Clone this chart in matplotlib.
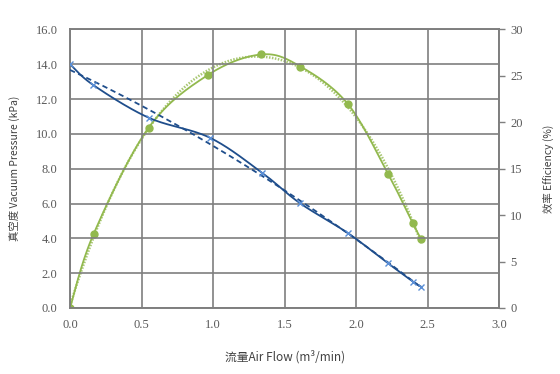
import numpy as np
import matplotlib
matplotlib.use("Agg")
import matplotlib.pyplot as plt

plt.rcParams['font.family'] = ['Noto Sans CJK SC', 'DejaVu Sans']

# Data
flow_p = [0.0, 0.163, 0.549, 0.977, 1.34, 1.605, 1.942, 2.22, 2.396, 2.452]
pressure = [14.0, 12.8, 10.93, 9.78, 7.78, 6.03, 4.30, 2.58, 1.52, 1.23]
flow_e = [0.0, 0.165, 0.549, 0.965, 1.338, 1.61, 1.942, 2.224, 2.396, 2.454]
efficiency = [0.0, 7.97, 19.4, 25.1, 27.3, 26.0, 21.96, 14.4, 9.1, 7.4]

x_ticks = [0.0, 0.5, 1.0, 1.5, 2.0, 2.5, 3.0]
y_ticks = [0, 2, 4, 6, 8, 10, 12, 14, 16]
y2_ticks = [0, 5, 10, 15, 20, 25, 30]

xlabel = '流量Air Flow (m³/min)'
ylabel = '真空度 Vacuum Pressure (kPa)'
y2label = '效率 Efficiency (%)'

DARK_BLUE = '#1f4e8c'
LIGHT_BLUE = '#5b8fd6'
GREEN = '#92b94e'
GRID = '#7f7f7f'
TICK = '#595959'


def smooth(x, y, n=30):
    """Catmull-Rom style smoothing (like spreadsheet 'smoothed line')."""
    x = np.asarray(x, float)
    y = np.asarray(y, float)
    P = np.column_stack([x, y])
    out = []
    for i in range(len(P) - 1):
        p0 = P[i - 1] if i > 0 else P[i]
        p1 = P[i]
        p2 = P[i + 1]
        p3 = P[i + 2] if i + 2 < len(P) else P[i + 1]
        c1 = p1 + (p2 - p0) / 6.0
        c2 = p2 - (p3 - p1) / 6.0
        t = np.linspace(0, 1, n)[:, None]
        seg = ((1 - t) ** 3) * p1 + 3 * ((1 - t) ** 2) * t * c1 + 3 * (1 - t) * t ** 2 * c2 + t ** 3 * p2
        out.append(seg if i == 0 else seg[1:])
    s = np.vstack(out)
    return s[:, 0], s[:, 1]


fig = plt.figure(figsize=(5.6, 3.74), dpi=100)
ax = fig.add_axes([0.125, 0.1765, 0.7666, 0.745])
ax2 = ax.twinx()

# Efficiency (right axis)
ex, ey = smooth(flow_e, efficiency)
ax2.plot(ex, ey, color=GREEN, lw=1.3, zorder=3)
ce = np.polyfit(flow_e, efficiency, 4)
tx = np.linspace(min(flow_e), max(flow_e), 200)
ax2.plot(tx, np.polyval(ce, tx), color=GREEN, lw=1.8, ls=(0, (0.6, 0.6)), alpha=0.8, zorder=3)
ax2.plot(flow_e, efficiency, 'o', color=GREEN, ms=5, zorder=4)

# Pressure (left axis)
px, py = smooth(flow_p, pressure)
cp = np.polyfit(flow_p, pressure, 2)
tp = np.linspace(min(flow_p), max(flow_p), 200)

ax2.set_ylim(0, 30)
ax2.set_yticks(y2_ticks)
ax2.set_yticklabels([str(v) for v in y2_ticks])

ax.set_zorder(ax2.get_zorder() + 1)
ax.patch.set_visible(False)
ax.plot(px, py, color=DARK_BLUE, lw=1.3, zorder=3)
ax.plot(tp, np.polyval(cp, tp), color=DARK_BLUE, lw=1.3, ls=(0, (3, 2)), zorder=3)
ax.plot(flow_p, pressure, 'x', color=LIGHT_BLUE, ms=5, mew=1.0, zorder=4)

ax.set_xlim(0, 3)
ax.set_ylim(0, 16)
ax.set_xticks(x_ticks)
ax.set_xticklabels([f'{v:.1f}' for v in x_ticks])
ax.set_yticks(y_ticks)
ax.set_yticklabels([f'{v:.1f}' for v in y_ticks])
ax.grid(True, color=GRID, lw=1.2)
ax.set_axisbelow(True)

for a in (ax, ax2):
    for s in a.spines.values():
        s.set_color(GRID)
        s.set_linewidth(1.2)

ax.tick_params(axis='x', length=0, pad=8, labelsize=9, labelcolor=TICK)
ax.tick_params(axis='y', length=0, pad=9, labelsize=9, labelcolor=TICK)
ax2.tick_params(axis='y', length=4, width=1, color=GRID, pad=4, labelsize=9, labelcolor=TICK)
for lab in ax.get_xticklabels() + ax.get_yticklabels() + ax2.get_yticklabels():
    lab.set_fontfamily('Liberation Serif')

ax.set_xlabel(xlabel, fontsize=8.5, color='#404040', labelpad=14)
ax.set_ylabel(ylabel, fontsize=7.5, color='#404040', labelpad=11)
ax2.set_ylabel(y2label, fontsize=7.5, color='#404040', labelpad=15)

fig.savefig('out.png', dpi=100)
